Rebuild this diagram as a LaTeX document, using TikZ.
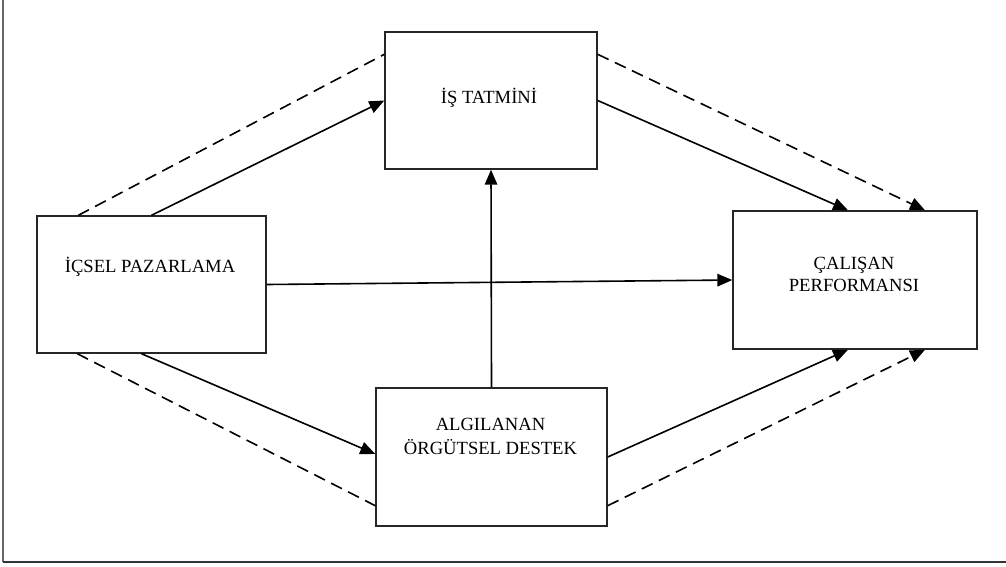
\documentclass[tikz,border=0pt]{standalone}
\usepackage{fontspec}
\setmainfont{Liberation Serif}
\usetikzlibrary{arrows.meta,calc}
\begin{document}
\begin{tikzpicture}[x=1pt,y=-1pt,
  box/.style={draw=black!85,line width=1.4pt,inner sep=0pt},
  lbl/.style={anchor=base,inner sep=0pt,font=\fontsize{18.6}{23}\selectfont},
  conn/.style={line width=1.6pt,black},
  arr/.style={conn,-{Triangle[length=15pt,width=12.5pt]}},
  dsh/.style={conn,dash pattern=on 12pt off 7pt},
  dsharr/.style={dsh,-{Triangle[length=15pt,width=12.5pt]}}]
\useasboundingbox (0,0) rectangle (1006,566);
% outer frame (left and bottom)
\coordinate (ftl) at (2.5,0);
\coordinate (fbl) at (2.5,562);
\coordinate (fbr) at (1006,562);
\draw[line width=2pt,black!60] (ftl) -- (fbl);
\draw[line width=2pt,black!80] (fbl) -- (fbr);
% boxes
\node[box,minimum width=229pt,minimum height=137pt] (ic) at (151.5,284.5) {};
\node[box,minimum width=212pt,minimum height=137pt] (is) at (491,100.5) {};
\node[box,minimum width=231pt,minimum height=138pt] (al) at (491.5,457) {};
\node[box,minimum width=244pt,minimum height=138pt] (ca) at (855,280) {};
% labels
\node[lbl] (tic) at (150,272.5) {İÇSEL PAZARLAMA};
\node[lbl] (tis) at (489,103) {İŞ TATMİNİ};
\node[lbl] (tala) at (490.5,430.5) {ALGILANAN};
\node[lbl] (talb) at (490.5,454) {ÖRGÜTSEL DESTEK};
\node[lbl] (tcaa) at (854,269) {ÇALIŞAN};
\node[lbl] (tcab) at (854,291.5) {PERFORMANSI};
% connectors
\draw[dsh] ([xshift=42pt]ic.north west) -- ([yshift=-23pt]is.north west);
\draw[arr] (ic.north) -- (is.west);
\draw[dsh] ([xshift=41pt]ic.south west) -- ([yshift=21pt]al.south west);
\draw[arr] ([xshift=-10pt]ic.south) -- ([yshift=3pt]al.west);
\draw[arr] (ic.east) -- (ca.west);
\draw[arr] (al.north) -- (is.south);
\draw[dsharr] ([yshift=-23pt]is.north east) -- ([xshift=70pt]ca.north);
\draw[arr] (is.east) -- ([xshift=-7pt]ca.north);
\draw[dsharr] ([yshift=21pt]al.south east) -- ([xshift=70pt]ca.south);
\draw[arr] (al.east) -- ([xshift=-7pt]ca.south);
\end{tikzpicture}
\end{document}
